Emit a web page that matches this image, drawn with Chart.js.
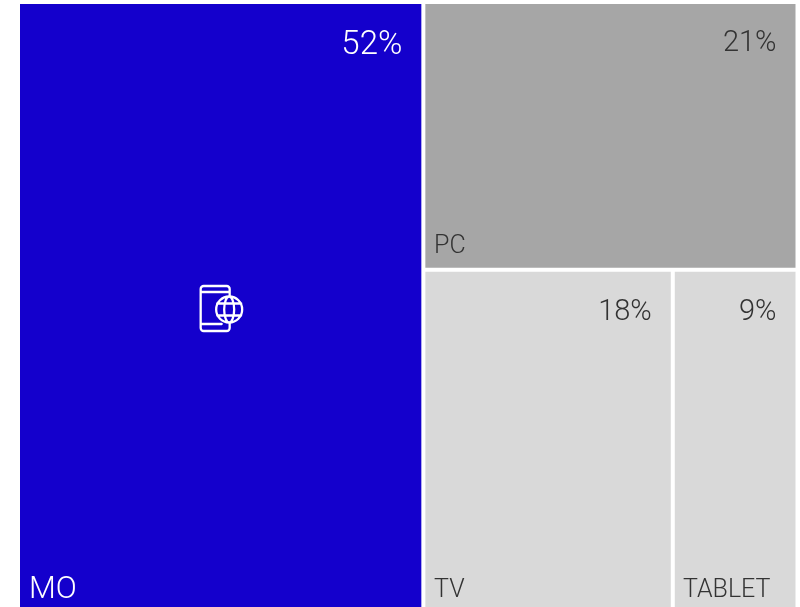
<!DOCTYPE html>
<html>
<head>
<meta charset="utf-8">
<style>
html,body{margin:0;padding:0;background:#fff;overflow:hidden;width:800px;height:607px}
#wrap{position:relative;width:800px;height:620px}
</style>
<script src="https://cdn.jsdelivr.net/npm/chart.js@4"></script>
</head>
<body>
<div id="wrap"><canvas id="c" width="800" height="620"></canvas></div>
<script>
const categories = ['MO', 'PC', 'TV', 'TABLET'];
const shares = [52, 21, 18, 9];
const percentLabels = ['52%', '21%', '18%', '9%'];
const cellColors = ['#1400cc', '#a6a6a6', '#d9d9d9', '#d9d9d9'];
const textColors = ['#ffffff', '#333333', '#333333', '#333333'];
const percentFontSizes = [33, 29, 29, 29];
const nameFontSizes = [31, 25, 25, 25];
const percentOffsets = [52, 49, 50, 50];
const nameOffsets = [11, 10.7, 10.7, 10.2];

// Slice-and-dice layout in data units (0-100 on both axes).
function layoutCells(v) {
  const total = v[0] + v[1] + v[2] + v[3];
  const w0 = v[0] / total * 100;
  const rest = total - v[0];
  const h1 = v[1] / rest * 100;
  const w2 = v[2] / (v[2] + v[3]) * (100 - w0);
  return [
    { x0: 0, x1: w0, y0: 0, y1: 100 },
    { x0: w0, x1: 100, y0: 0, y1: h1 },
    { x0: w0, x1: w0 + w2, y0: h1, y1: 100 },
    { x0: w0 + w2, x1: 100, y0: h1, y1: 100 }
  ];
}

class TreemapCellsController extends Chart.DatasetController {
  update(mode) {
    const meta = this._cachedMeta;
    this.updateElements(meta.data, 0, meta.data.length, mode);
  }
  updateElements(elements, start, count, mode) {
    const xs = this.chart.scales.x, ys = this.chart.scales.y;
    const cells = layoutCells(this.getDataset().data);
    for (let i = start; i < start + count; i++) {
      const c = cells[i];
      const l = xs.getPixelForValue(c.x0), r = xs.getPixelForValue(c.x1);
      const t = ys.getPixelForValue(c.y0), b = ys.getPixelForValue(c.y1);
      this.updateElement(elements[i], i, {
        x: (l + r) / 2, y: t, base: b,
        width: r - l, height: b - t,
        horizontal: false,
        inflateAmount: 0,
        borderSkipped: { top: false, right: false, bottom: false, left: false },
        options: this.resolveDataElementOptions(i, mode)
      }, mode);
    }
  }
}
TreemapCellsController.id = 'treemapCells';
TreemapCellsController.defaults = { datasetElementType: false, dataElementType: 'bar' };
Chart.register(TreemapCellsController);

const cellLabels = {
  id: 'cellLabels',
  afterDatasetsDraw(chart) {
    const ctx = chart.ctx;
    const els = chart.getDatasetMeta(0).data;
    ctx.save();
    els.forEach((el, i) => {
      const left = el.x - el.width / 2, right = el.x + el.width / 2;
      const top = el.y;
      ctx.fillStyle = textColors[i];
      ctx.textBaseline = 'alphabetic';
      ctx.font = '300 ' + percentFontSizes[i] + 'px Roboto';
      ctx.textAlign = 'right';
      ctx.fillText(percentLabels[i], right - 21, top + percentOffsets[i]);
      ctx.font = '300 ' + nameFontSizes[i] + 'px Roboto';
      ctx.textAlign = 'left';
      const baseline = i === 1 ? el.base - 17 : (i === 0 ? 598 : 597);
      ctx.fillText(categories[i], left + nameOffsets[i], baseline);
    });
    // device icon, centred in the MO cell
    const mo = els[0];
    const cx = mo.x + 1, cy = (mo.y + mo.base) / 2 + 1;
    ctx.strokeStyle = '#ffffff';
    ctx.lineWidth = 2.3;
    ctx.lineCap = 'round';
    ctx.lineJoin = 'round';
    const px = cx - 21, py = cy - 23, pw = 29, ph = 45, rr = 3;
    ctx.beginPath();
    ctx.moveTo(px + pw, py + 10);
    ctx.lineTo(px + pw, py + rr);
    ctx.arcTo(px + pw, py, px + pw - rr, py, rr);
    ctx.lineTo(px + rr, py);
    ctx.arcTo(px, py, px, py + rr, rr);
    ctx.lineTo(px, py + ph - rr);
    ctx.arcTo(px, py + ph, px + rr, py + ph, rr);
    ctx.lineTo(px + pw - rr, py + ph);
    ctx.arcTo(px + pw, py + ph, px + pw, py + ph - rr, rr);
    ctx.lineTo(px + pw, py + 37);
    ctx.moveTo(px, py + 6); ctx.lineTo(px + pw, py + 6);
    ctx.moveTo(px, py + 38); ctx.lineTo(px + pw - 8, py + 38);
    ctx.stroke();
    const gx = cx + 7.5, gy = cy + 0.5, gr = 13;
    ctx.beginPath();
    ctx.arc(gx, gy, gr, 0, Math.PI * 2);
    ctx.moveTo(gx + 5, gy);
    ctx.ellipse(gx, gy, 5, gr, 0, 0, Math.PI * 2);
    ctx.moveTo(gx - gr + 1, gy - 6); ctx.lineTo(gx + gr - 1, gy - 6);
    ctx.moveTo(gx - gr + 1, gy + 6); ctx.lineTo(gx + gr - 1, gy + 6);
    ctx.stroke();
    ctx.restore();
  }
};

new Chart(document.getElementById('c'), {
  type: 'treemapCells',
  plugins: [cellLabels],
  data: {
    labels: categories,
    datasets: [{
      data: shares,
      backgroundColor: cellColors,
      borderColor: '#ffffff',
      borderWidth: 2,
      borderSkipped: false
    }]
  },
  options: {
    responsive: false,
    animation: false,
    layout: { padding: { left: 18, right: 2.5, top: 2, bottom: 6 } },
    plugins: { legend: { display: false }, tooltip: { enabled: false }, title: { display: false } },
    events: [],
    scales: {
      x: { type: 'linear', min: 0, max: 100, display: false },
      y: { type: 'linear', min: 0, max: 100, reverse: true, display: false }
    }
  }
});
</script>
</body>
</html>
